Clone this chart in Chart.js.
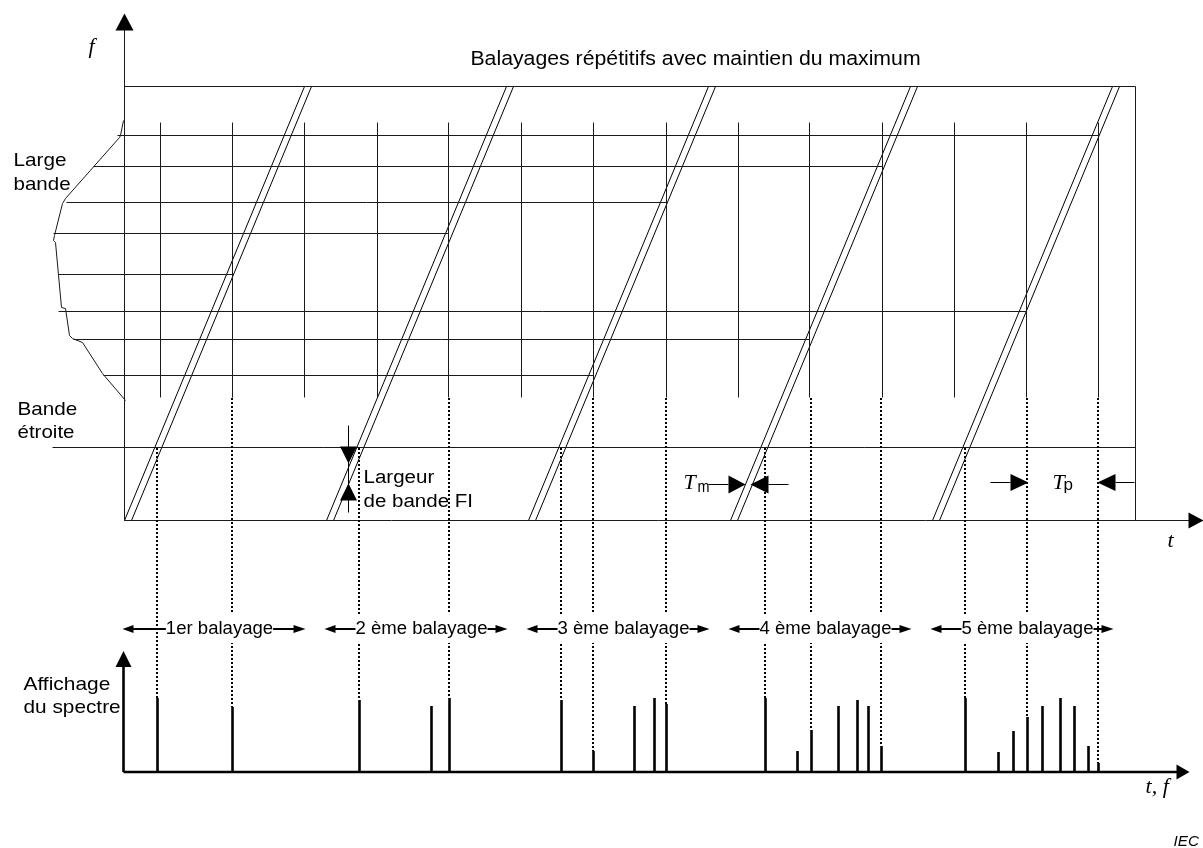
<!DOCTYPE html>
<html><head><meta charset="utf-8">
<script src="https://cdn.jsdelivr.net/npm/chart.js@4.4.1/dist/chart.umd.min.js"></script>
<style>html,body{margin:0;padding:0;background:#fff;}#wrap{width:1203px;height:848px;position:relative;}</style>
</head><body><div id="wrap"><canvas id="c"></canvas></div>
<script>
// ---- data (t: time from f-axis, f: frequency above t-axis, a: displayed amplitude) ----
const gridTimes = [36,108,180,253,324,397,469,542,614,685,758,830,902,974];
const gridFreqRange = [123, 398];
const signalFreqs = [385,354,318,287,246,209,181,145];
const signalStart = [-7,-31,-58,-71,-66,-66,-51,-21];
const signalEnd   = [974,758,542,324,108,902,685,469];
const narrowBandFreq = 73;
const narrowBandStart = -72;
const sweepStarts = [0,202,404,606,808];
const sweepSpan = 180;
const sweepGap = 7;
const freqTop = 434;
const timeEnd = 1011;
const envelopeT = [-1,-4,-5,-59,-62,-70,-71,-69,-63,-59,-55,-52,-42,-22,1];
const envelopeF = [400,385,383,322,317,285,280,278,213,212,185,182,178,147,120];
const specT = [33,108,235,307,325,437,469,510,530,542,641,673,687,714,733,744,757,841,874,889,903,918,936,950,964,974];
const specA = [74,65,72,66,74,72,21,66,74,68,74,21,42,66,72,66,26,74,20,41,55,66,74,66,26,9];
const traceT = [33,108,235,325,437,469,542,641,687,757,841,903,974];
const traceFrom = [73,123,73,123,73,123,123,73,123,123,73,123,123];
const sweepLabels = ['1er balayage','2 ème balayage','3 ème balayage','4 ème balayage','5 ème balayage'];
const titleText = 'Balayages répétitifs avec maintien du maximum';

// ---- datasets ----
const datasets = [];
function seg(points, axis, opts) {
  datasets.push(Object.assign({type:'line', data:points, xAxisID:'x', yAxisID:axis,
    borderColor:'#1a1a1a', borderWidth:1, pointRadius:0, pointHoverRadius:0,
    fill:false, tension:0, spanGaps:false}, opts||{}));
}
// frame of the upper diagram
seg([{x:0,y:0},{x:0,y:495}], 'yF');
seg([{x:0,y:freqTop},{x:timeEnd,y:freqTop}], 'yF');
seg([{x:timeEnd,y:0},{x:timeEnd,y:freqTop}], 'yF');
seg([{x:0,y:0},{x:1068,y:0}], 'yF');
// vertical time grid
gridTimes.forEach(t => seg([{x:t,y:gridFreqRange[0]},{x:t,y:gridFreqRange[1]}], 'yF'));
// signals
signalFreqs.forEach((f,i) => seg([{x:signalStart[i],y:f},{x:signalEnd[i],y:f}], 'yF'));
seg([{x:narrowBandStart,y:narrowBandFreq},{x:timeEnd,y:narrowBandFreq}], 'yF');
// envelope
seg(envelopeT.map((t,i)=>({x:t,y:envelopeF[i]})), 'yF');
// sweeps
sweepStarts.forEach(s => {
  seg([{x:s,y:0},{x:s+sweepSpan,y:freqTop}], 'yF', {borderColor:'#000'});
  seg([{x:s+sweepGap,y:0},{x:s+sweepGap+sweepSpan,y:freqTop}], 'yF', {borderColor:'#000'});
});
// spectrum display
seg([{x:-1,y:0},{x:1056,y:0}], 'yA', {borderColor:'#000', borderWidth:2.6});
seg([{x:-1,y:0},{x:-1,y:108}], 'yA', {borderColor:'#000', borderWidth:2.6});
specT.forEach((t,i) => seg([{x:t,y:0},{x:t,y:specA[i]}], 'yA', {borderColor:'#000', borderWidth:2.6}));

// ---- annotations plugin ----
const annot = {
  id:'annot',
  afterDatasetsDraw(chart) {
    const c = chart.ctx, xs = chart.scales.x, yf = chart.scales.yF, ya = chart.scales.yA;
    const X = t => xs.getPixelForValue(t), F = f => yf.getPixelForValue(f), A = a => ya.getPixelForValue(a);
    const SANS = '"Liberation Sans", Arial, Helvetica, sans-serif';
    const SERIF = '"Liberation Serif", "Times New Roman", serif';
    function tri(tx, ty, bx, by, h) {
      const dx = tx-bx, dy = ty-by, L = Math.hypot(dx,dy), px = -dy/L*h, py = dx/L*h;
      c.beginPath(); c.moveTo(tx,ty); c.lineTo(bx+px,by+py); c.lineTo(bx-px,by-py); c.closePath();
      c.fillStyle='#000'; c.fill();
    }
    function line(x1,y1,x2,y2,w) {
      c.beginPath(); c.moveTo(x1,y1); c.lineTo(x2,y2); c.lineWidth=w||1; c.strokeStyle='#000'; c.stroke();
    }
    function txt(s, x, y, font, sx, align) {
      c.save(); c.font = font; c.fillStyle = '#000'; c.textAlign = align||'left'; c.textBaseline='alphabetic';
      c.translate(x,y); c.scale(sx||1,1); c.fillText(s,0,0); c.restore();
    }
    function width(s, font, sx) { c.save(); c.font = font; const w = c.measureText(s).width*(sx||1); c.restore(); return w; }

    c.save();
    // dotted traces from the sweep diagram to the spectrum lines
    c.setLineDash([2,2]);
    traceT.forEach((t,i) => {
      const amp = specA[specT.indexOf(t)];
      const x = Math.floor(X(t));
      line(x, Math.round(F(traceFrom[i])), x, Math.round(A(amp)), 2);
    });
    c.setLineDash([]);

    // axis arrowheads
    tri(X(0), F(507), X(0), F(490), 9);
    tri(X(1079), F(0), X(1064), F(0), 8);
    tri(X(-1), A(121), X(-1), A(105), 8);
    tri(X(1065), A(0), X(1052), A(0), 7.5);

    // IF bandwidth marker
    line(X(224), F(95), X(224), F(8), 1);
    tri(X(224), F(57), X(224), F(74), 8.5);
    tri(X(224), F(37), X(224), F(20), 8.5);

    // Tm marker
    line(X(584), F(36), X(604), F(36), 1);
    tri(X(621), F(36), X(604), F(36), 9);
    tri(X(626), F(36), X(644), F(36), 9);
    line(X(644), F(36), X(664), F(36), 1);
    // Tp marker
    line(X(866), F(38), X(886), F(38), 1);
    tri(X(904), F(38), X(886), F(38), 8.5);
    tri(X(973), F(38), X(991), F(38), 8.5);
    line(X(991), F(38), X(1010), F(38), 1);

    // sweep labels
    const lf = '17.5px ' + SANS, lsx = 1.06;
    sweepStarts.forEach((s,i) => {
      const cx = X(s+95), w = width(sweepLabels[i], lf, lsx);
      const x0 = cx - w/2, x1 = cx + w/2, ly = A(143);
      c.fillStyle = '#fff'; c.fillRect(x0-1, A(158), w+2, A(129)-A(158));
      txt(sweepLabels[i], cx, A(138), lf, lsx, 'center');
      const lt = X(s-2), rt = X(s+sweepSpan+1);
      tri(lt, ly, lt+11, ly, 4); line(lt+10, ly, x0, ly, 2);
      tri(rt, ly, rt-12, ly, 4); line(x1, ly, rt-11, ly, 2);
    });

    // texts
    txt(titleText, X(571), F(456), '20.5px ' + SANS, 1.037, 'center');
    txt('f', X(-36), F(468), 'italic 22px ' + SERIF, 1, 'left');
    txt('t', X(1043), F(-26), 'italic 22px ' + SERIF, 1, 'left');
    txt('Large', X(-111), F(355), '19px ' + SANS, 1.09);
    txt('bande', X(-111), F(331), '19px ' + SANS, 1.08);
    txt('Bande', X(-107), F(106), '19px ' + SANS, 1.09);
    txt('étroite', X(-107), F(83), '19px ' + SANS, 1.08);
    txt('Largeur', X(239), F(38), '18px ' + SANS, 1.14);
    txt('de bande FI', X(239), F(14), '18px ' + SANS, 1.14);
    txt('T', X(559), F(32), 'italic 22px ' + SERIF, 1);
    txt('m', X(573), F(29), '17px ' + SANS, 0.85);
    txt('T', X(928), F(32), 'italic 22px ' + SERIF, 1);
    txt('p', X(939), F(31), '17px ' + SANS, 1);
    txt('Affichage', X(-101), A(82), '19px ' + SANS, 1.10);
    txt('du spectre', X(-101), A(59), '19px ' + SANS, 1.095);
    txt('t, f', X(1021), A(-21), 'italic 21px ' + SERIF, 1.05);
    txt('IEC', X(1049), A(-74), 'italic 14.5px ' + SANS, 1.05);
    c.restore();
  }
};

new Chart(document.getElementById('c'), {
  type:'scatter',
  data:{datasets},
  options:{
    responsive:true, maintainAspectRatio:false, animation:false, events:[],
    layout:{padding:0},
    plugins:{legend:{display:false}, tooltip:{enabled:false}, title:{display:false}},
    scales:{
      x:{type:'linear', min:-124.5, max:1078.5, display:false},
      y:{type:'linear', display:false},
      yF:{type:'linear', min:-327.5, max:520.5, display:false},
      yA:{type:'linear', min:-76, max:772, display:false}
    }
  },
  plugins:[annot]
});
</script></body></html>
